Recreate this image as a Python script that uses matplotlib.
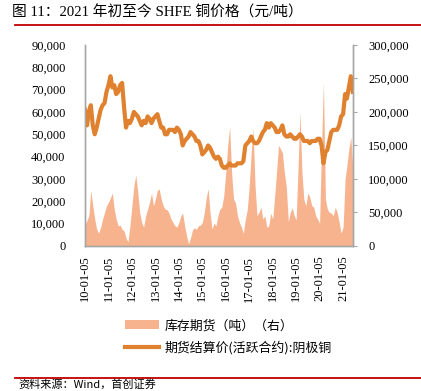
import matplotlib
matplotlib.use("Agg")
import matplotlib.pyplot as plt
import matplotlib.dates as mdates
from matplotlib.patches import Patch
from matplotlib.lines import Line2D
import pandas as pd

# ---------------------------------------------------------------------------
# Data (monthly, 2010-01 .. 2021-06)
# ---------------------------------------------------------------------------
# SHFE copper settlement price, thousand yuan/ton (left axis)
price_k = [
    61, 54, 60, 63, 54, 50, 53, 57, 61, 63, 64, 69,      # 2010
    72, 76, 71, 72, 68, 69, 72, 73, 62, 53, 56, 55,      # 2011
    57, 60, 59, 58, 56, 54, 56, 55, 58, 57, 55, 57,      # 2012
    58, 59, 56, 53, 53, 50, 50, 52, 52, 52, 51, 53,      # 2013
    52, 50, 45, 47, 48, 49, 51, 50, 49, 47, 47, 45,      # 2014
    41, 42, 43, 45, 44, 42, 40, 39, 40, 39, 36, 35,      # 2015
    35, 36, 37, 36, 36, 36, 37, 37, 37, 38, 45, 46,      # 2016
    47, 49, 47, 46, 46, 47, 49, 51, 52, 55, 53, 55,      # 2017
    54, 53, 51, 51, 52, 54, 50, 49, 49, 50, 49, 48,      # 2018
    48, 49, 50, 49, 47, 47, 47, 46, 47, 47, 47, 48,      # 2019
    48, 45, 37, 42, 43, 47, 51, 52, 52, 52, 54, 58,      # 2020
    59, 68, 66, 71, 76, 69,                              # 2021
]

# SHFE futures inventory, thousand tons (right axis)
stock_k = [
    32, 38, 45, 83, 60, 40, 25, 19, 28, 40, 50, 60,      # 2010
    65, 72, 79, 55, 40, 30, 31, 25, 22, 12, 6, 30,       # 2011
    60, 90, 106, 80, 50, 35, 28, 45, 55, 65, 79, 60,     # 2012
    70, 83, 85, 70, 60, 55, 54, 49, 40, 35, 30, 28,      # 2013
    35, 45, 49, 30, 15, 3, 12, 24, 27, 25, 30, 31,       # 2014
    35, 50, 70, 86, 50, 25, 34, 30, 45, 55, 58, 75,      # 2015
    110, 150, 178, 110, 70, 64, 45, 35, 28, 19, 40, 54,  # 2016
    90, 140, 176, 90, 45, 50, 58, 40, 45, 28, 30, 49,    # 2017
    40, 75, 109, 150, 145, 139, 110, 88, 36, 50, 57, 45, # 2018
    39, 120, 200, 110, 69, 60, 79, 73, 60, 58, 45, 40,   # 2019
    34, 150, 245, 69, 55, 50, 49, 45, 58, 50, 35, 19,    # 2020
    28, 100, 120, 145, 163, 113,                         # 2021
]

dates = pd.date_range("2010-01-05", periods=len(price_k), freq=pd.DateOffset(months=1))
tick_dates = pd.date_range("2010-01-05", "2021-01-05", freq=pd.DateOffset(years=1))

price = [v * 1000 for v in price_k]
stock = [v * 1000 for v in stock_k]

LINE_C = "#E0812F"
AREA_C = "#F6B38D"
GREY = "#A6A6A6"
SERIF = ["Liberation Serif", "Noto Sans CJK SC"]
CJK = ["Noto Sans CJK SC", "DejaVu Sans"]

# ---------------------------------------------------------------------------
# Plot
# ---------------------------------------------------------------------------
fig = plt.figure(figsize=(4.21, 3.91), dpi=100)
ax = fig.add_axes([0.202, 0.371, 0.636, 0.514])
ax2 = ax.twinx()

ax2.fill_between(dates, stock, 0, color=AREA_C, lw=0)
ax.plot(dates, price, color=LINE_C, lw=3.0, solid_joinstyle="round")

ax.set_zorder(ax2.get_zorder() + 1)
ax.patch.set_visible(False)

ax.set_xlim(dates[0], dates[-1])
ax.set_ylim(0, 90000)
ax2.set_ylim(0, 300000)
ax.set_yticks(range(0, 90001, 10000))
ax2.set_yticks(range(0, 300001, 50000))
ax.yaxis.set_major_formatter(matplotlib.ticker.StrMethodFormatter("{x:,.0f}"))
ax2.yaxis.set_major_formatter(matplotlib.ticker.StrMethodFormatter("{x:,.0f}"))
ax.set_xticks(tick_dates)
ax.xaxis.set_major_formatter(mdates.DateFormatter("%y-%m-%d"))

for a in (ax, ax2):
    for s in a.spines.values():
        s.set_color(GREY)
        s.set_linewidth(1.0)
    a.spines["top"].set_visible(False)

ax.tick_params(axis="y", length=0, pad=14, labelsize=9)
ax.tick_params(axis="x", length=0, pad=7, labelsize=9, rotation=90)
ax2.tick_params(axis="y", length=3, color=GREY, pad=8, labelsize=9)
for lab in ax.get_xticklabels() + ax.get_yticklabels() + ax2.get_yticklabels():
    lab.set_family(SERIF)

# title and rules
fig.text(0.028, 0.968, "图 11：2021 年初至今 SHFE 铜价格（元/吨）", family=SERIF,
         fontsize=10.6, va="center", ha="left")
fig.add_artist(Line2D([0.036, 1.0], [0.937, 0.937], color="#C00000", lw=1.3))
fig.add_artist(Line2D([0.036, 1.0], [0.033, 0.033], color="#C00000", lw=1.3))
fig.text(0.045, 0.002, "资料来源：Wind，首创证券", family=CJK, fontsize=8,
         style="italic", va="bottom", ha="left")

handles = [Patch(facecolor=AREA_C, edgecolor="none"),
           Line2D([], [], color=LINE_C, lw=3.0)]
labels = ["库存期货（吨）（右）", "期货结算价(活跃合约):阴极铜"]
fig.legend(handles, labels, loc="upper left", bbox_to_anchor=(0.285, 0.197),
           frameon=False, prop={"family": CJK, "size": 9.3}, handlelength=2.6,
           handleheight=0.7, labelspacing=0.65, borderaxespad=0, handletextpad=0.45)

fig.savefig("out.png", dpi=100)
